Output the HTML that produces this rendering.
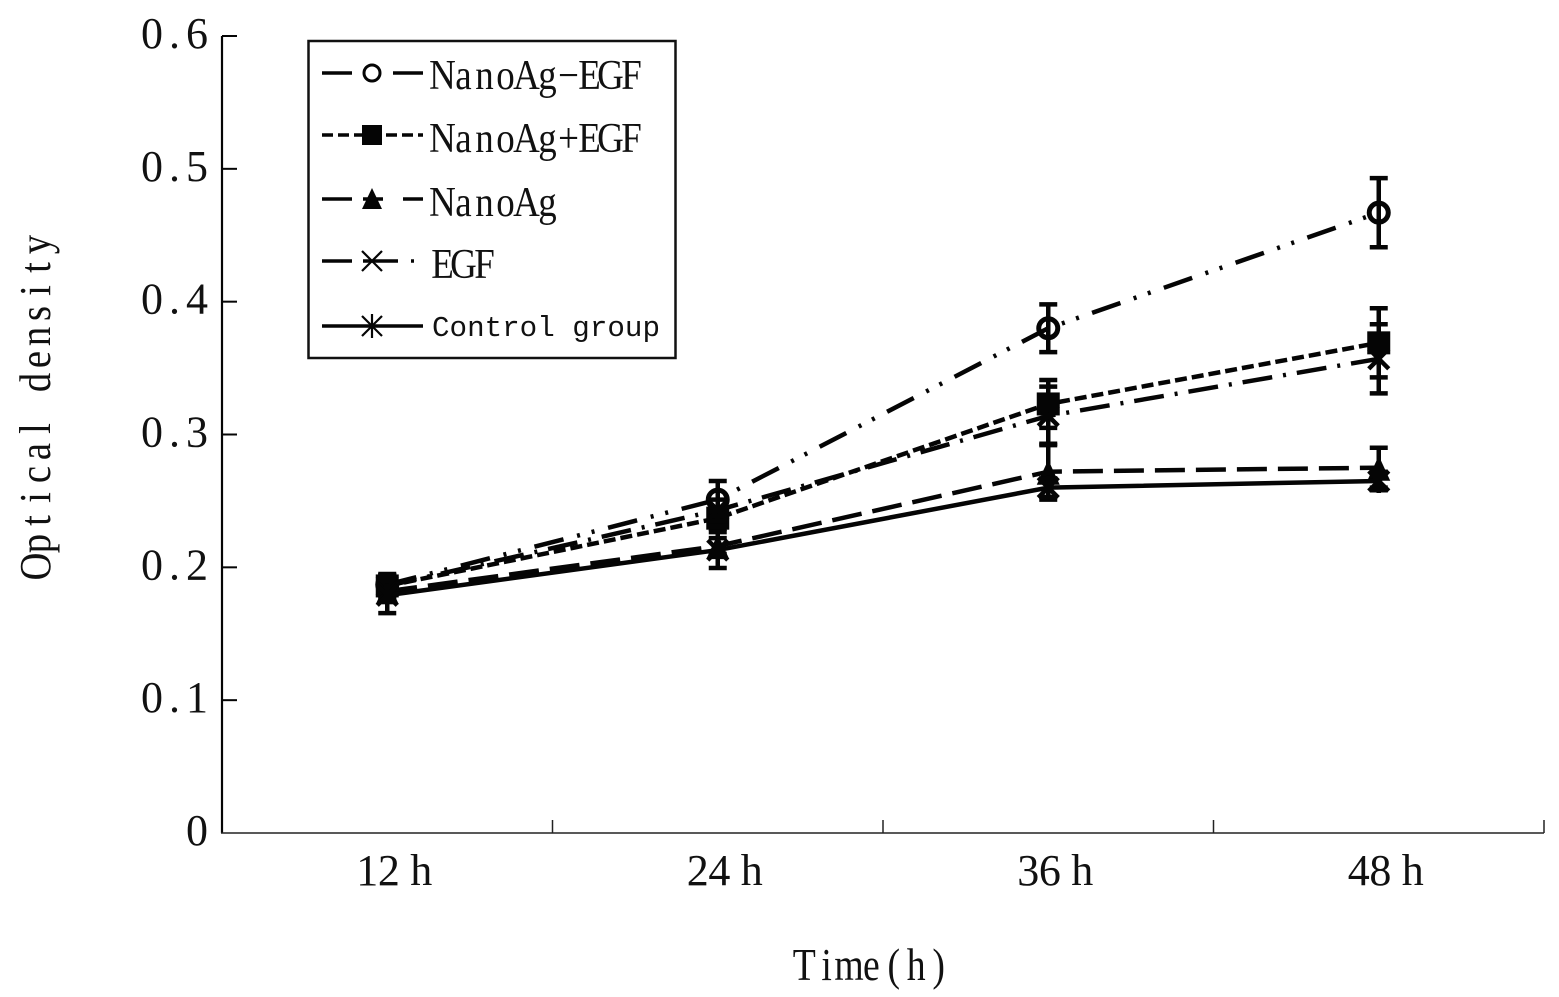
<!DOCTYPE html>
<html lang="en">
<head>
<meta charset="utf-8">
<title>Optical density over time</title>
<style>
html,body{margin:0;padding:0;background:#fff;width:1559px;height:997px;overflow:hidden}
svg{display:block}
text{fill:#111;font-family:"Liberation Serif","Noto Serif CJK SC",serif}
.mono{font-family:"Liberation Mono","Noto Sans CJK SC",monospace}
</style>
</head>
<body>
<svg id="chart" width="1559" height="997" viewBox="0 0 1559 997" xmlns="http://www.w3.org/2000/svg">
<rect width="1559" height="997" fill="#fff"/>
<text class="cell-text" data-cell="23" data-hs="0.88" transform="translate(50,578) rotate(-90) scale(0.88,1)" font-size="44">Optical density</text>
<text class="cell-text" data-cell="22.4" data-hs="0.82" transform="translate(793,980) scale(0.82,1)" font-size="46">Time(h)</text>
<g id="axes"></g>
<g id="series"></g>
<g id="legend">
<rect x="308.5" y="41" width="367" height="317" fill="#fff" stroke="#111" stroke-width="2.5"/>
<text class="cell-text" data-cell="21" data-hs="0.88" transform="translate(432,89) scale(0.88,1)" font-size="42">NanoAg−EGF</text>
<text class="cell-text" data-cell="21" data-hs="0.88" transform="translate(432,152) scale(0.88,1)" font-size="42">NanoAg+EGF</text>
<text class="cell-text" data-cell="21" data-hs="0.88" transform="translate(432,216) scale(0.88,1)" font-size="42">NanoAg</text>
<text class="cell-text" data-cell="21" data-hs="0.88" transform="translate(432,278) scale(0.88,1)" font-size="42">EGF</text>
<text class="mono" x="432" y="336" font-size="29" textLength="228" lengthAdjust="spacingAndGlyphs">Control group</text>
</g>
</svg>
<script>
const categories = ['12 h', '24 h', '36 h', '48 h'];
const yTickValues = [0, 0.1, 0.2, 0.3, 0.4, 0.5, 0.6];
const yTickLabels = ['0', '0.1', '0.2', '0.3', '0.4', '0.5', '0.6'];

const nanoAgEgfValues = [0.187, 0.251, 0.380, 0.467];
const nanoAgEgfErrors = [0.008, 0.014, 0.018, 0.026];
const nanoAgPlusEgfValues = [0.186, 0.237, 0.323, 0.369];
const nanoAgPlusEgfErrors = [0.008, 0.008, 0.018, 0.026];
const nanoAgValues = [0.182, 0.216, 0.272, 0.275];
const nanoAgErrors = [0.008, 0.006, 0.021, 0.015];
const egfValues = [0.186, 0.243, 0.314, 0.357];
const egfErrors = [0.008, 0.008, 0.022, 0.026];
const controlValues = [0.179, 0.213, 0.260, 0.265];
const controlErrors = [0.0135, 0.0135, 0.007, 0.007];

const NS = 'http://www.w3.org/2000/svg';
const INK = '#050505';
const axisX0 = 222, axisX1 = 1544, axisY0 = 833, axisY1 = 36, yMax = 0.6;

function xScale(i) { return axisX0 + (axisX1 - axisX0) * (i + 0.5) / categories.length; }
function yScale(v) { return axisY0 + (axisY1 - axisY0) * v / yMax; }

function make(tag, attrs, parent) {
  const el = document.createElementNS(NS, tag);
  for (const k in attrs) el.setAttribute(k, attrs[k]);
  parent.appendChild(el);
  return el;
}

function drawMarker(kind, x, y, parent, bold) {
  const g = make('g', {}, parent);
  
  
  const stroke = { stroke: INK, 'stroke-width': bold ? 4.5 : 2.2, fill: 'none' };
  if (kind === 'circle') {
    make('circle', { cx: x, cy: y, r: bold ? 9.5 : 8, stroke: INK, 'stroke-width': bold ? 5 : 3, fill: 'none' }, g);
  } else if (kind === 'square') {
    const h = bold ? 11.5 : 10;
    make('rect', { x: x - h, y: y - h, width: 2 * h, height: 2 * h, fill: INK }, g);
  } else if (kind === 'triangle') {
    const h = bold ? 11.5 : 10;
    make('path', { d: `M${x} ${y - (bold ? 12 : 11)}L${x + h} ${y + (bold ? 13 : 10)}L${x - h} ${y + (bold ? 13 : 10)}Z`, fill: INK }, g);
  } else if (kind === 'cross') {
    make('path', Object.assign({ d: `M${x - 10} ${y - 10}L${x + 10} ${y + 10}M${x + 10} ${y - 10}L${x - 10} ${y + 10}` }, stroke), g);
  } else if (kind === 'asterisk') {
    make('path', Object.assign({ d: `M${x - 10} ${y - 10}L${x + 10} ${y + 10}M${x + 10} ${y - 10}L${x - 10} ${y + 10}M${x} ${y - 12}L${x} ${y + 12}` }, stroke), g);
  }
  return g;
}

const axes = document.getElementById('axes');

const yAxisLine = make('line', { x1: axisX0, y1: axisY1, x2: axisX0, y2: axisY0, stroke: INK, 'stroke-width': 2.2 }, axes);



const xAxisLine = make('line', { x1: axisX0 - 1, y1: axisY0, x2: axisX1, y2: axisY0, stroke: '#222', 'stroke-width': 1.6 }, axes);



yTickValues.forEach((v, i) => {
  const y = yScale(v);
  if (v > 0) {
    const tick = make('line', { x1: axisX0, y1: y, x2: axisX0 + 15, y2: y, stroke: INK, 'stroke-width': 2 }, axes);
    
    
  }
  const multi = yTickLabels[i].length > 1;
  const label = make('text', { x: multi ? 141 : 186, y: y + 12, 'font-size': 44, textLength: multi ? 67 : 22, lengthAdjust: 'spacing' }, axes);
  label.textContent = yTickLabels[i];
  
  
});

for (let i = 1; i <= categories.length; i++) {
  const x = axisX0 + (axisX1 - axisX0) * i / categories.length;
  const tick = make('line', { x1: x, y1: axisY0, x2: x, y2: axisY0 - 13, stroke: '#222', 'stroke-width': 1.5 }, axes);
  
  
}

categories.forEach((c, i) => {
  const label = make('text', { x: xScale(i) - 31, y: 885, 'font-size': 44, textLength: 76, lengthAdjust: 'spacing' }, axes);
  label.textContent = c;
  
  
});

const seriesDefs = [
  { name: 'nanoag-egf', values: nanoAgEgfValues, errors: nanoAgEgfErrors, marker: 'circle', dash: '30 14 3 12 3 14', width: 4.5 },
  { name: 'nanoag-plus-egf', values: nanoAgPlusEgfValues, errors: nanoAgPlusEgfErrors, marker: 'square', dash: '12 5', width: 4.5 },
  { name: 'nanoag', values: nanoAgValues, errors: nanoAgErrors, marker: 'triangle', dash: '30 11', width: 4.5 },
  { name: 'egf', values: egfValues, errors: egfErrors, marker: 'cross', dash: '30 11 3 11', width: 4.5 },
  { name: 'control-group', values: controlValues, errors: controlErrors, marker: 'asterisk', dash: 'none', width: 4.5 }
];

const seriesRoot = document.getElementById('series');
seriesDefs.forEach(s => {
  const g = make('g', {}, seriesRoot);
  
  

  s.values.forEach((v, i) => {
    const x = xScale(i);
    const top = yScale(v + s.errors[i]);
    const bot = yScale(v - s.errors[i]);
    const bar = make('path', {
      d: `M${x - 9} ${top}H${x + 9}M${x} ${top}V${bot}M${x - 9} ${bot}H${x + 9}`,
      stroke: INK, 'stroke-width': 4.5, fill: 'none'
    }, g);
    
    
  });

  const line = make('polyline', {
    points: s.values.map((v, i) => xScale(i) + ',' + yScale(v)).join(' '),
    fill: 'none', stroke: INK, 'stroke-width': s.width, 'stroke-dasharray': s.dash
  }, g);
  
  

  s.values.forEach((v, i) => {
    drawMarker(s.marker, xScale(i), yScale(v), g, true);
  });
});

const legendRoot = document.getElementById('legend');
const legendSamples = [
  { y: 73, dash: '30 41', marker: 'circle', width: 3.5 },
  { y: 135, dash: '11 5', marker: 'square', width: 3.5 },
  { y: 199, dash: '30 11 20 20 20', marker: 'triangle', width: 3.5 },
  { y: 261, dash: '30 11 35 13 3 100', marker: 'cross', width: 3.5 },
  { y: 326, dash: 'none', marker: 'asterisk', width: 3.5 }
];
legendSamples.forEach(r => {
  const sample = make('line', { x1: 322, y1: r.y, x2: 423, y2: r.y, stroke: INK, 'stroke-width': r.width, 'stroke-dasharray': r.dash }, legendRoot);
  
  
  drawMarker(r.marker, 372, r.y, legendRoot, false);
});

/* Half-width, evenly pitched Latin text like the original figure's typeface */
const measureCtx = document.createElement('canvas').getContext('2d');
document.querySelectorAll('.cell-text').forEach(el => {
  const cell = parseFloat(el.getAttribute('data-cell'));
  const hs = parseFloat(el.getAttribute('data-hs'));
  measureCtx.font = el.getAttribute('font-size') + 'px "Liberation Serif"';
  const xs = Array.from(el.textContent).map((ch, i) => {
    const w = measureCtx.measureText(ch).width * hs;
    return ((cell * i + (cell - w) / 2) / hs).toFixed(2);
  });
  el.setAttribute('x', xs.join(' '));
});
</script>
</body>
</html>
